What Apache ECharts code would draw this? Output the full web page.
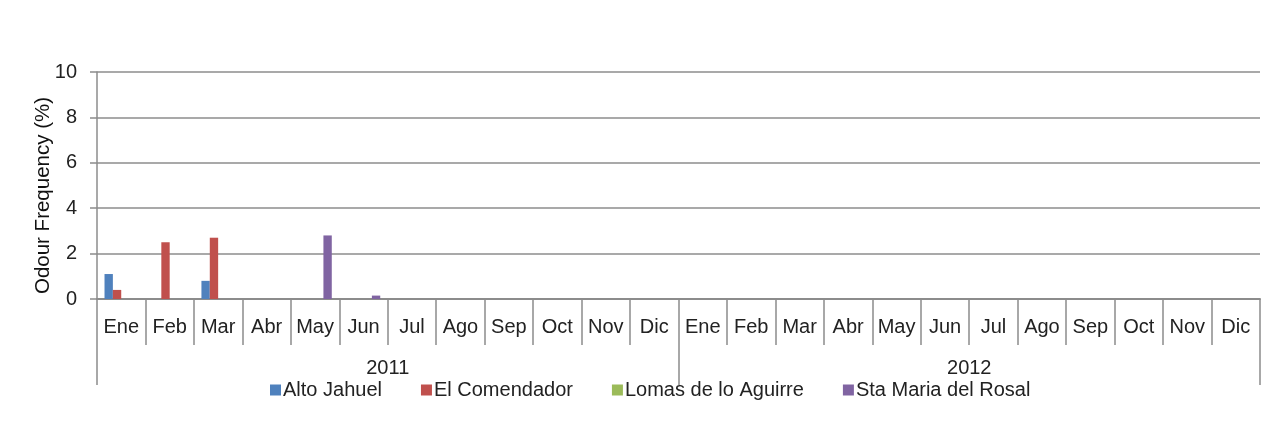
<!DOCTYPE html>
<html>
<head>
<meta charset="utf-8">
<script src="https://cdn.jsdelivr.net/npm/echarts@6/dist/echarts.min.js"></script>
<style>html,body{margin:0;padding:0;background:#fff}#c{width:1278px;height:434px}</style>
</head>
<body>
<div id="c"></div>
<script>
var months = ['Ene','Feb','Mar','Abr','May','Jun','Jul','Ago','Sep','Oct','Nov','Dic','Ene','Feb','Mar','Abr','May','Jun','Jul','Ago','Sep','Oct','Nov','Dic'];
var years = ['2011','2012'];
var altoJahuel     = [1.1,0,0.8,0,0,0,0,0,0,0,0,0, 0,0,0,0,0,0,0,0,0,0,0,0];
var elComendador   = [0.4,2.5,2.7,0,0,0,0,0,0,0,0,0, 0,0,0,0,0,0,0,0,0,0,0,0];
var lomasAguirre   = [0,0,0,0,0,0,0,0,0,0,0,0, 0,0,0,0,0,0,0,0,0,0,0,0];
var staMariaRosal  = [0,0,0,0,2.8,0.15,0,0,0,0,0,0, 0,0,0,0,0,0,0,0,0,0,0,0];
var yTicks = {min:0, max:10, interval:2};

var font = '"Liberation Sans", Arial, sans-serif';
var fs = 20;
var lineCol = '#8c8c8c';
var chart = echarts.init(document.getElementById('c'));
function ser(name, data, color){
  return {name:name, type:'bar', data:data, barGap:'0%', barCategoryGap:'31%',
    itemStyle:{color:color}, xAxisIndex:0};
}
chart.setOption({
  animation:false,
  textStyle:{fontFamily:font},
  grid:{left:97, right:18, top:72, bottom:135, containLabel:false},
  legend:{
    top:375, left:265, itemWidth:11, itemHeight:11, itemGap:39,
    icon:'rect',
    textStyle:{fontSize:fs, color:'#222', fontFamily:font, padding:[0,0,0,-3]},
    data:['Alto Jahuel','El Comendador','Lomas de lo Aguirre','Sta Maria del Rosal']
  },
  xAxis:[
    {type:'category', data:months, position:'bottom',
     axisLine:{show:true, lineStyle:{color:lineCol, width:2}},
     axisTick:{show:true, length:46, interval:0, lineStyle:{color:lineCol, width:1.5}},
     axisLabel:{interval:0, margin:18, fontSize:fs, color:'#222', fontFamily:font},
     splitLine:{show:false}},
    {type:'category', data:years, position:'bottom',
     axisLine:{show:false},
     axisTick:{show:true, length:86, interval:0, lineStyle:{color:lineCol, width:1.5}},
     axisLabel:{interval:0, margin:59, fontSize:fs, color:'#222', fontFamily:font},
     splitLine:{show:false}}
  ],
  yAxis:{type:'value', min:yTicks.min, max:yTicks.max, interval:yTicks.interval,
    name:'Odour Frequency (%)', nameLocation:'middle', nameGap:43, nameMoveOverlap:false,
    nameTextStyle:{fontSize:20.5, color:'#111', fontFamily:font, padding:[0,20,0,0]},
    axisLine:{show:true, lineStyle:{color:lineCol, width:1.5}},
    axisTick:{show:true, length:7, lineStyle:{color:lineCol, width:1.5}},
    axisLabel:{margin:20, fontSize:fs, color:'#222', fontFamily:font},
    splitLine:{show:true, lineStyle:{color:lineCol, width:1.5}}
  },
  series:[
    ser('Alto Jahuel', altoJahuel, '#4F81BD'),
    ser('El Comendador', elComendador, '#C0504D'),
    ser('Lomas de lo Aguirre', lomasAguirre, '#9BBB59'),
    ser('Sta Maria del Rosal', staMariaRosal, '#8064A2')
  ]
});
</script>
</body>
</html>
